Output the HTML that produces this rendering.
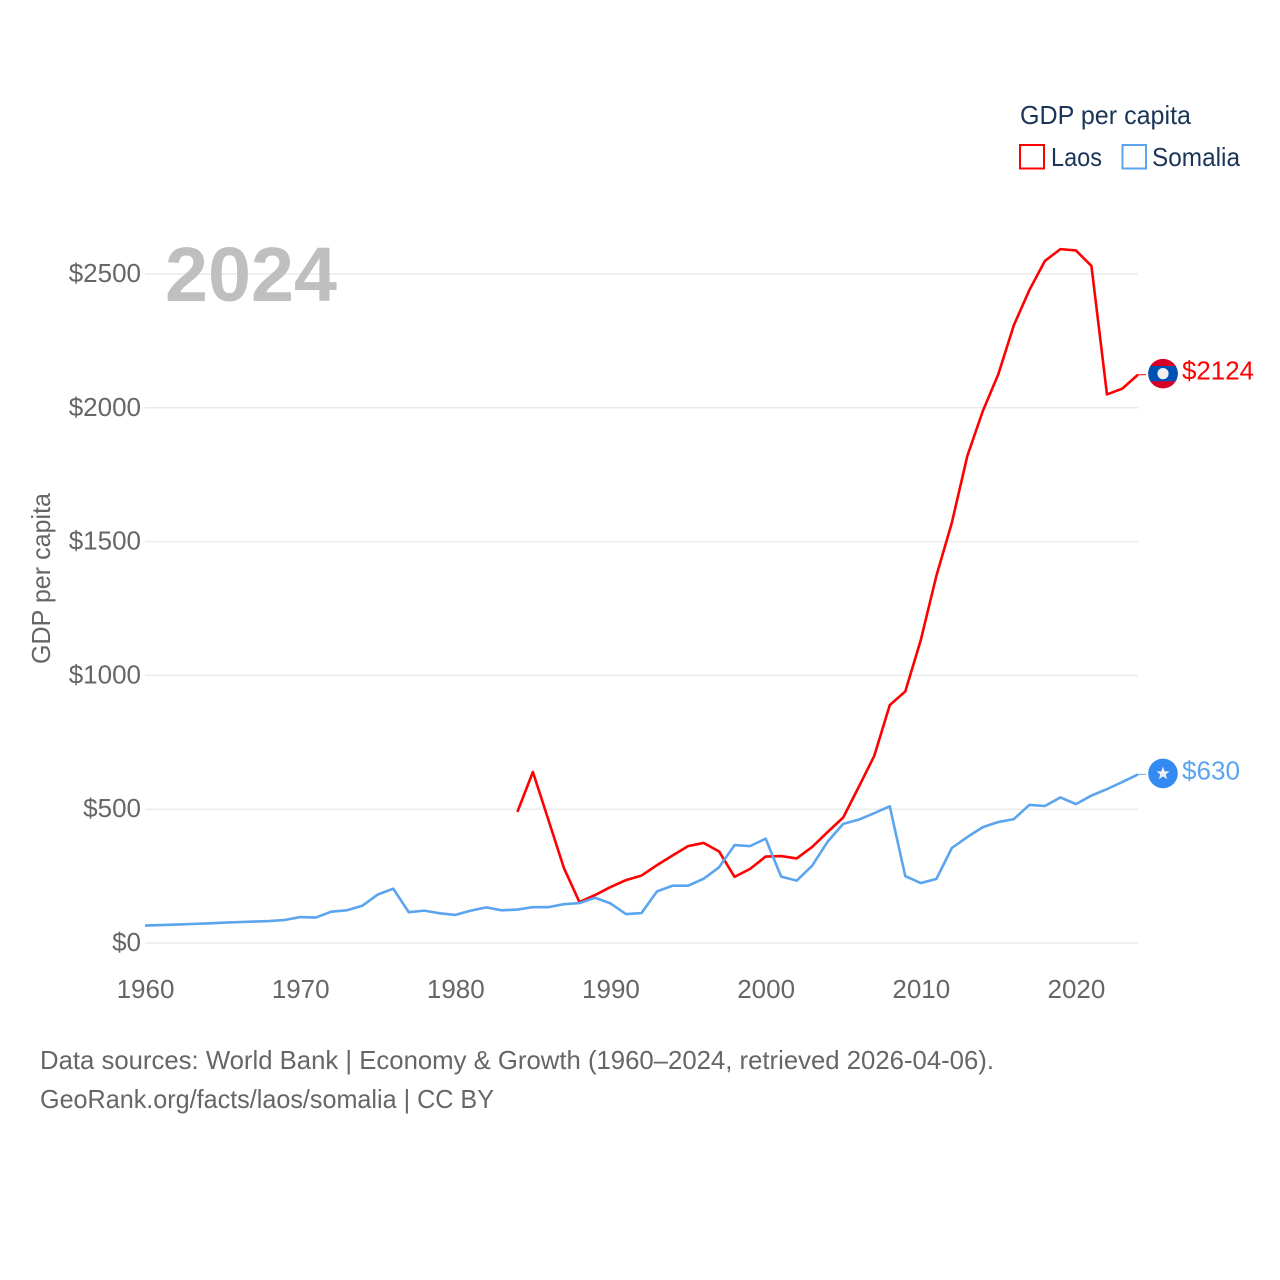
<!DOCTYPE html>
<html lang="en">
<head>
<meta charset="utf-8">
<title>GDP per capita: Laos and Somalia</title>
<style>
html,body{margin:0;padding:0;background:#fff;width:1280px;height:1280px;overflow:hidden}
svg{display:block}
text{font-family:"Liberation Sans",sans-serif;font-size:26px}
</style>
</head>
<body>
<svg id="chart" width="1280" height="1280" viewBox="0 0 1280 1280" xmlns="http://www.w3.org/2000/svg">
  <g id="grid"></g>
  <text x="165" y="301" fill="#bfbfbf" font-weight="700" style="font-size:77px" textLength="172" lengthAdjust="spacingAndGlyphs">2024</text>
  <g id="y-ticks"></g>
  <g id="x-ticks"></g>
  <text transform="translate(50 664) rotate(-90)" fill="#666" textLength="171" lengthAdjust="spacingAndGlyphs">GDP per capita</text>
  <g id="series"></g>
  <g id="end-markers"></g>
  <g>
    <text x="1020" y="124" fill="#1a3558" textLength="171" lengthAdjust="spacingAndGlyphs">GDP per capita</text>
    <rect x="1020" y="145" width="24" height="23.5" fill="none" stroke="#ff0000" stroke-width="2"/>
    <text x="1051" y="166" fill="#1a3558" textLength="51" lengthAdjust="spacingAndGlyphs">Laos</text>
    <rect x="1122.5" y="145" width="23.5" height="23.5" fill="none" stroke="#5ba4ee" stroke-width="2"/>
    <text x="1152" y="166" fill="#1a3558" textLength="88" lengthAdjust="spacingAndGlyphs">Somalia</text>
  </g>
  <text x="40" y="1069" fill="#666" textLength="954" lengthAdjust="spacingAndGlyphs">Data sources: World Bank | Economy &amp; Growth (1960–2024, retrieved 2026-04-06).</text>
  <text x="40" y="1108" fill="#666" textLength="454" lengthAdjust="spacingAndGlyphs">GeoRank.org/facts/laos/somalia | CC BY</text>
</svg>
<script>
const yTickValues = [0, 500, 1000, 1500, 2000, 2500];
const xTickYears = [1960, 1970, 1980, 1990, 2000, 2010, 2020];
const somaliaFirstYear = 1960;
const somaliaValues = [65, 67, 69, 71, 73, 76, 78, 80, 82, 86,
  97, 95, 117, 122, 139, 181, 203, 115, 121, 111,
  105, 121, 133, 122, 125, 134, 134, 145, 149, 169,
  148, 108, 112, 193, 214, 214, 240, 283, 366, 362,
  390, 248, 233, 289, 379, 445, 461, 485, 511, 250,
  224, 239, 355, 396, 433, 452, 463, 516, 512, 544,
  519, 551, 575, 602, 630];
const laosFirstYear = 1984;
const laosValues = [490, 639, 460, 280, 153, 179,
  209, 235, 252, 291, 327, 362, 374, 342, 247, 277,
  323, 325, 316, 359, 415, 469, 583, 699, 889, 940,
  1132, 1371, 1570, 1820, 1988, 2126, 2309, 2440, 2549, 2593,
  2588, 2530, 2050, 2072, 2124];

const NS = 'http://www.w3.org/2000/svg';
function xScale(year) { return 145 + (year - 1960) * (1138 - 145) / 64; }
function yScale(value) { return 943 - value * (943 - 274) / 2500; }
function make(tag, parent, attrs) {
  const el = document.createElementNS(NS, tag);
  for (const k in attrs) el.setAttribute(k, attrs[k]);
  parent.appendChild(el);
  return el;
}

const grid = document.getElementById('grid');
const yTicks = document.getElementById('y-ticks');
yTickValues.forEach(function (v) {
  const line = make('line', grid, {x1: 145, x2: 1138, y1: yScale(v), y2: yScale(v), stroke: '#ebebeb', 'stroke-width': 1.5});
  
  
  const label = make('text', yTicks, {x: 141, y: yScale(v) + 8, fill: '#666', 'text-anchor': 'end'});
  
  
  label.textContent = '$' + v;
});

const xTicks = document.getElementById('x-ticks');
xTickYears.forEach(function (yr) {
  const label = make('text', xTicks, {x: xScale(yr) + 0.5, y: 998, fill: '#666', 'text-anchor': 'middle'});
  
  
  label.textContent = yr;
});

function linePoints(firstYear, values) {
  return values.map(function (v, i) { return xScale(firstYear + i).toFixed(2) + ',' + yScale(v).toFixed(2); }).join(' ');
}

const series = document.getElementById('series');
const markers = document.getElementById('end-markers');

const laosLine = make('polyline', series, {points: linePoints(laosFirstYear, laosValues), fill: 'none', stroke: '#ff0000', 'stroke-width': 2.6, 'stroke-linejoin': 'round'});


const somaliaLine = make('polyline', series, {points: linePoints(somaliaFirstYear, somaliaValues), fill: 'none', stroke: '#5ba4ee', 'stroke-width': 2.6, 'stroke-linejoin': 'round'});



const laosLast = laosValues[laosValues.length - 1];
const somaliaLast = somaliaValues[somaliaValues.length - 1];
const laosY = yScale(laosLast);
const somaliaY = yScale(somaliaLast);

const laosStub = make('line', markers, {x1: 1138, x2: 1146, y1: laosY, y2: laosY, stroke: '#ff0000', 'stroke-width': 1.2, opacity: 0.8});


const somaliaStub = make('line', markers, {x1: 1138, x2: 1146, y1: somaliaY, y2: somaliaY, stroke: '#5ba4ee', 'stroke-width': 1.2, opacity: 0.8});



const laosFlag = make('g', markers, {transform: 'translate(1163 ' + (laosY - 1) + ')'});


make('circle', laosFlag, {r: 14.8, fill: '#d80027'});
make('path', laosFlag, {d: 'M-12.7 -7.6 H12.7 A14.8 14.8 0 0 1 12.7 7.6 H-12.7 A14.8 14.8 0 0 1 -12.7 -7.6 Z', fill: '#0052b4'});
make('circle', laosFlag, {r: 5.6, fill: '#f0f0f0'});

const somaliaFlag = make('g', markers, {transform: 'translate(1163 ' + (somaliaY - 1) + ')'});


make('circle', somaliaFlag, {r: 14.8, fill: '#338af3'});
make('path', somaliaFlag, {d: 'M0 -6.8 L1.7 -2 L6.6 -2 L2.7 1 L4.1 5.8 L0 3 L-4.1 5.8 L-2.7 1 L-6.6 -2 L-1.7 -2 Z', fill: '#f0f0f0'});

const laosValueLabel = make('text', markers, {x: 1182, y: laosY + 5, fill: '#ff0000', textLength: 72, lengthAdjust: 'spacingAndGlyphs'});


laosValueLabel.textContent = '$' + laosLast;

const somaliaValueLabel = make('text', markers, {x: 1182, y: somaliaY + 5, fill: '#5ba4ee', textLength: 58, lengthAdjust: 'spacingAndGlyphs'});


somaliaValueLabel.textContent = '$' + somaliaLast;
</script>
</body>
</html>
